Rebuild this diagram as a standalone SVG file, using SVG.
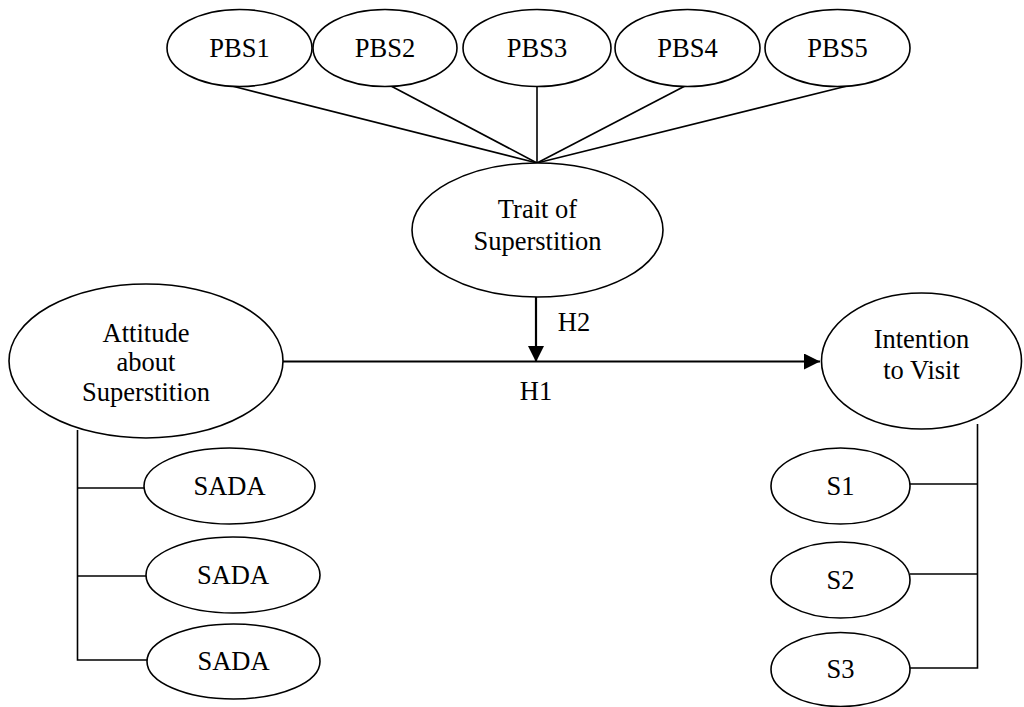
<svg xmlns="http://www.w3.org/2000/svg" width="1024" height="707" viewBox="0 0 1024 707">
<style>
.n{fill:#fff;stroke:#000;stroke-width:1.6}
.t{font-family:"Liberation Serif","Times New Roman",serif;font-size:26.5px;fill:#000;text-anchor:middle}
.c{stroke:#000;stroke-width:1.6;fill:none}
.a{stroke:#000;stroke-width:2.2;fill:none}
</style>
<defs>
<marker id="ah" viewBox="0 0 10 10" refX="10" refY="5" markerWidth="16" markerHeight="16" markerUnits="userSpaceOnUse" orient="auto">
<path d="M0,0 L10,5 L0,10 Z" fill="#000"/>
</marker>
</defs>
<rect width="1024" height="707" fill="#fff"/>
<g id="connectors">
<line class="c" x1="232" y1="86" x2="537" y2="163"/>
<line class="c" x1="391" y1="86" x2="537" y2="163"/>
<line class="c" x1="537" y1="86" x2="537" y2="163"/>
<line class="c" x1="685" y1="86" x2="537" y2="163"/>
<line class="c" x1="847" y1="86" x2="537" y2="163"/>
<line class="a" x1="283" y1="361.5" x2="820" y2="361.5" marker-end="url(#ah)"/>
<line class="a" x1="536" y1="297" x2="536" y2="362" marker-end="url(#ah)"/>
<polyline class="c" points="77.5,430 77.5,660 147,660"/>
<line class="c" x1="77.5" y1="488" x2="144" y2="488"/>
<line class="c" x1="77.5" y1="576" x2="146" y2="576"/>
<polyline class="c" points="977.5,424 977.5,668 910,668"/>
<line class="c" x1="977.5" y1="484" x2="910" y2="484"/>
<line class="c" x1="977.5" y1="574" x2="910" y2="574"/>
<text class="t" x="574" y="331">H2</text>
<text class="t" x="536" y="400">H1</text>
</g>
<g id="PBS1"><ellipse class="n" cx="239.5" cy="48" rx="72.5" ry="38.5"/><text class="t" x="239.5" y="57">PBS1</text></g>
<g id="PBS2"><ellipse class="n" cx="385" cy="48" rx="72" ry="38.5"/><text class="t" x="385" y="57">PBS2</text></g>
<g id="PBS3"><ellipse class="n" cx="537" cy="48" rx="74" ry="38.5"/><text class="t" x="537" y="57">PBS3</text></g>
<g id="PBS4"><ellipse class="n" cx="687.5" cy="48" rx="72.5" ry="38.5"/><text class="t" x="687.5" y="57">PBS4</text></g>
<g id="PBS5"><ellipse class="n" cx="837.5" cy="48" rx="72.5" ry="38.5"/><text class="t" x="837.5" y="57">PBS5</text></g>
<g id="trait"><ellipse class="n" cx="537.5" cy="230" rx="125.5" ry="67"/><text class="t" x="537.5" y="218">Trait of</text><text class="t" x="537.5" y="250">Superstition</text></g>
<g id="attitude"><ellipse class="n" cx="146" cy="361" rx="137" ry="77"/><text class="t" x="146" y="342">Attitude</text><text class="t" x="146" y="371">about</text><text class="t" x="146" y="401">Superstition</text></g>
<g id="intention"><ellipse class="n" cx="921.5" cy="361" rx="100" ry="68"/><text class="t" x="921.5" y="348">Intention</text><text class="t" x="921.5" y="379">to Visit</text></g>
<g id="SADA1"><ellipse class="n" cx="229.5" cy="486" rx="85.5" ry="38"/><text class="t" x="229.5" y="495">SADA</text></g>
<g id="SADA2"><ellipse class="n" cx="233" cy="575" rx="87" ry="38"/><text class="t" x="233" y="584">SADA</text></g>
<g id="SADA3"><ellipse class="n" cx="233.5" cy="661.5" rx="86.5" ry="37.5"/><text class="t" x="233.5" y="670">SADA</text></g>
<g id="S1"><ellipse class="n" cx="840.5" cy="486" rx="69.5" ry="38"/><text class="t" x="840.5" y="495">S1</text></g>
<g id="S2"><ellipse class="n" cx="840.5" cy="580" rx="69.5" ry="38"/><text class="t" x="840.5" y="589">S2</text></g>
<g id="S3"><ellipse class="n" cx="840.5" cy="669.5" rx="69.5" ry="37"/><text class="t" x="840.5" y="678">S3</text></g>
</svg>
